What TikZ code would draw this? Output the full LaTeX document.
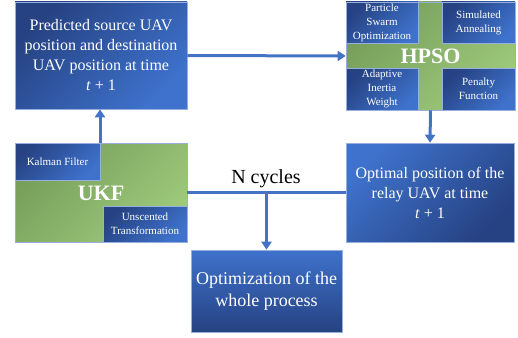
\documentclass[tikz,border=0pt]{standalone}
\usepackage{fontspec}
\setmainfont{Liberation Serif}
\usetikzlibrary{arrows.meta}
\definecolor{bdark}{RGB}{38,66,130}
\definecolor{blight}{RGB}{62,114,204}
\definecolor{gdark}{RGB}{118,158,90}
\definecolor{glight}{RGB}{158,202,124}
\definecolor{edgec}{RGB}{150,175,220}
\definecolor{linec}{RGB}{68,114,196}
\tikzset{
  bluebox/.style={draw=edgec, line width=0.6pt, shading=axis, top color=bdark, bottom color=blight, shading angle=45, text=white, align=center, inner sep=0pt},
  bluerev/.style={draw=edgec, line width=0.6pt, shading=axis, top color=blight, bottom color=bdark, shading angle=45, text=white, align=center, inner sep=0pt},
  bluevert/.style={draw=edgec, line width=0.6pt, shading=axis, top color=blight, bottom color=bdark, text=white, align=center, inner sep=0pt},
  greenbox/.style={draw=edgec, line width=0.6pt, shading=axis, top color=gdark, bottom color=glight, shading angle=45, text=white, inner sep=0pt},
  bigtxt/.style={font=\fontsize{16}{20}\selectfont},
  smalltxt/.style={font=\fontsize{11}{14}\selectfont},
  conn/.style={draw=linec, line width=3pt},
  arr/.style={conn, -{Triangle[width=10pt,length=8pt]}}
}
\begin{document}
\begin{tikzpicture}[x=1pt,y=-1pt]
\useasboundingbox (0,0) rectangle (518,337);
% Predicted box
\node[bluebox, bigtxt, minimum width=172pt, minimum height=107pt] (pred) at (101,55.5)
  {Predicted source UAV\\position and destination\\UAV position at time\\\textit{t} + 1};
% HPSO
\node[greenbox, minimum width=169pt, minimum height=108pt] (hpso) at (430.5,56) {};
\node[bluebox, smalltxt, minimum width=72pt, minimum height=41pt] (pso) at (382,22.5) {Particle\\Swarm\\Optimization};
\node[bluebox, smalltxt, minimum width=73pt, minimum height=41pt] (sa) at (478.5,22.5) {Simulated\\Annealing};
\node[bluebox, smalltxt, minimum width=72pt, minimum height=42pt] (aiw) at (382,89) {Adaptive\\Inertia\\Weight};
\node[bluebox, smalltxt, minimum width=73pt, minimum height=42pt] (pf) at (478.5,89) {Penalty\\Function};
\node[text=white, font=\fontsize{22}{24}\selectfont\bfseries] (hpsot) at (430.5,56) {HPSO};
% UKF
\node[greenbox, minimum width=172pt, minimum height=99pt] (ukf) at (101,192.5) {};
\node[bluebox, smalltxt, minimum width=85pt, minimum height=37pt] (kf) at (57.5,161.5) {Kalman Filter};
\node[bluebox, smalltxt, minimum width=84pt, minimum height=36pt] (ut) at (145,224) {Unscented\\Transformation};
\node[text=white, font=\fontsize{22}{24}\selectfont\bfseries] (ukft) at (101,193) {UKF};
% Optimal
\node[bluerev, bigtxt, minimum width=168pt, minimum height=99pt] (opt) at (430,192.5)
  {Optimal position of the\\relay UAV at time\\\textit{t} + 1};
% Whole
\node[bluevert, font=\fontsize{18}{22}\selectfont, minimum width=151pt, minimum height=82pt] (whole) at (266.5,291)
  {Optimization of the\\whole process};
% connectors
\draw[arr] (pred.east) -- (hpso.west);
\draw[arr] (hpso.south) -- (opt.north);
\draw[arr] ([xshift=-1pt]ukf.north) -- ([xshift=-1pt]pred.south);
\draw[conn] (ukf.east) -- (opt.west);
\coordinate (j) at (whole.north |- ukf.east);
\draw[arr] (j) -- (whole.north);
\node[font=\fontsize{20}{22}\selectfont] (ncyc) at (266,179) {N cycles};
\end{tikzpicture}
\end{document}
